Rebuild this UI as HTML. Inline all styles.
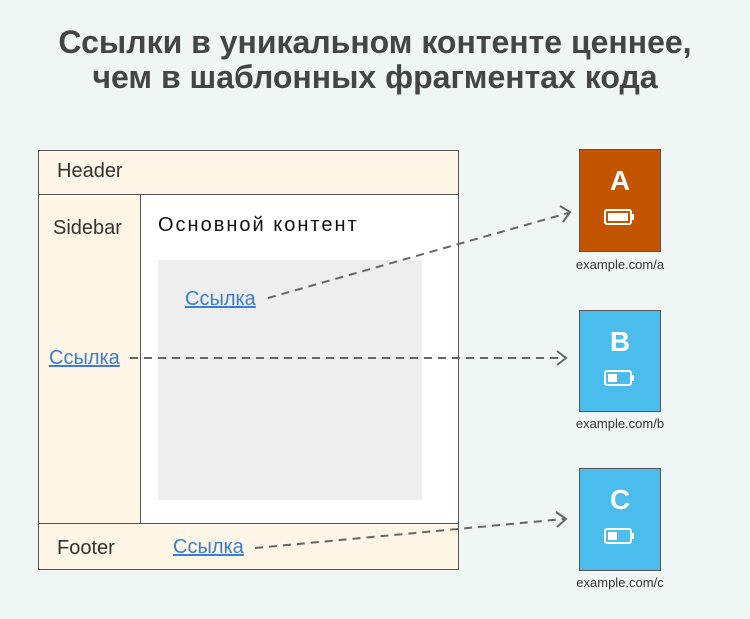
<!DOCTYPE html><html><head><style>
body{margin:0;width:750px;height:619px;background:#eff6f4;font-family:"Liberation Sans",sans-serif;position:relative;overflow:hidden}
.a{position:absolute}
h1{position:absolute;top:25px;left:0;width:750px;margin:0;text-align:center;font-size:32px;line-height:35px;color:#454545;font-weight:bold}
.lbl{font-size:20px;color:#333}
.lnk{font-size:20px;color:#3a7fcf;text-decoration:underline}
.box{position:absolute;width:80px;border:1px solid #555;color:#fff;font-size:28px;font-weight:bold;text-align:center}
.url{position:absolute;font-size:13px;color:#333;width:120px;text-align:center}
</style></head><body>
<h1>Ссылки в уникальном контенте ценнее,<br>чем в шаблонных фрагментах кода</h1>
<div class="a" style="left:38px;top:150px;width:419px;height:418px;border:1px solid #555;background:#fdf5e6"></div>
<div class="a" style="left:38px;top:194px;width:420px;height:0;border-top:1px solid #555"></div>
<div class="a" style="left:38px;top:523px;width:420px;height:0;border-top:1px solid #555"></div>
<div class="a" style="left:140px;top:195px;width:317px;height:328px;border-left:1px solid #555;background:#fff"></div>
<div class="a" style="left:158px;top:260px;width:264px;height:240px;background:#eeeeee"></div>
<div class="a lbl" style="left:57px;top:160px">Header</div>
<div class="a lbl" style="left:53px;top:217px">Sidebar</div>
<div class="a lbl" style="left:57px;top:537px">Footer</div>
<div class="a" style="left:158px;top:214px;font-size:20px;letter-spacing:2px;color:#111">Основной контент</div>
<div class="a lnk" style="left:185px;top:288px">Ссылка</div>
<div class="a lnk" style="left:49px;top:347px">Ссылка</div>
<div class="a lnk" style="left:173px;top:536px">Ссылка</div>
<div class="box" style="left:579px;top:149px;height:101px;background:#c35400"><div style="margin-top:15px">A</div></div>
<div class="box" style="left:579px;top:310px;height:100px;background:#4bbded"><div style="margin-top:15px">B</div></div>
<div class="box" style="left:579px;top:468px;height:101px;background:#4bbded"><div style="margin-top:15px">C</div></div>
<div class="url" style="left:560px;top:257px">example.com/a</div>
<div class="url" style="left:560px;top:416px">example.com/b</div>
<div class="url" style="left:560px;top:575px">example.com/c</div>
<svg class="a" style="left:0;top:0" width="750" height="619">
<g fill="none" stroke="#fff" stroke-width="2">
<rect x="605" y="210" width="26" height="14" rx="2"/><path d="M633 214v6"/>
<rect x="605" y="371" width="26" height="14" rx="2"/><path d="M633 375v6"/>
<rect x="605" y="529" width="26" height="14" rx="2"/><path d="M633 533v6"/>
</g>
<rect x="608" y="213" width="20" height="8" fill="#fff"/>
<rect x="608" y="374" width="9" height="8" fill="#fff"/>
<rect x="608" y="532" width="9" height="8" fill="#fff"/>
<g stroke="#666" stroke-width="2" fill="none" stroke-dasharray="8,6">
<path d="M268 298L568 213"/><path d="M130 358L564 358"/><path d="M255 548L564 519"/>
</g>
<g stroke="#666" stroke-width="2" fill="none">
<path d="M560 206L570 212L563 222"/><path d="M557 351L566 358L557 365"/><path d="M556 512L566 519L557 527"/>
</g>
</svg>
</body></html>
